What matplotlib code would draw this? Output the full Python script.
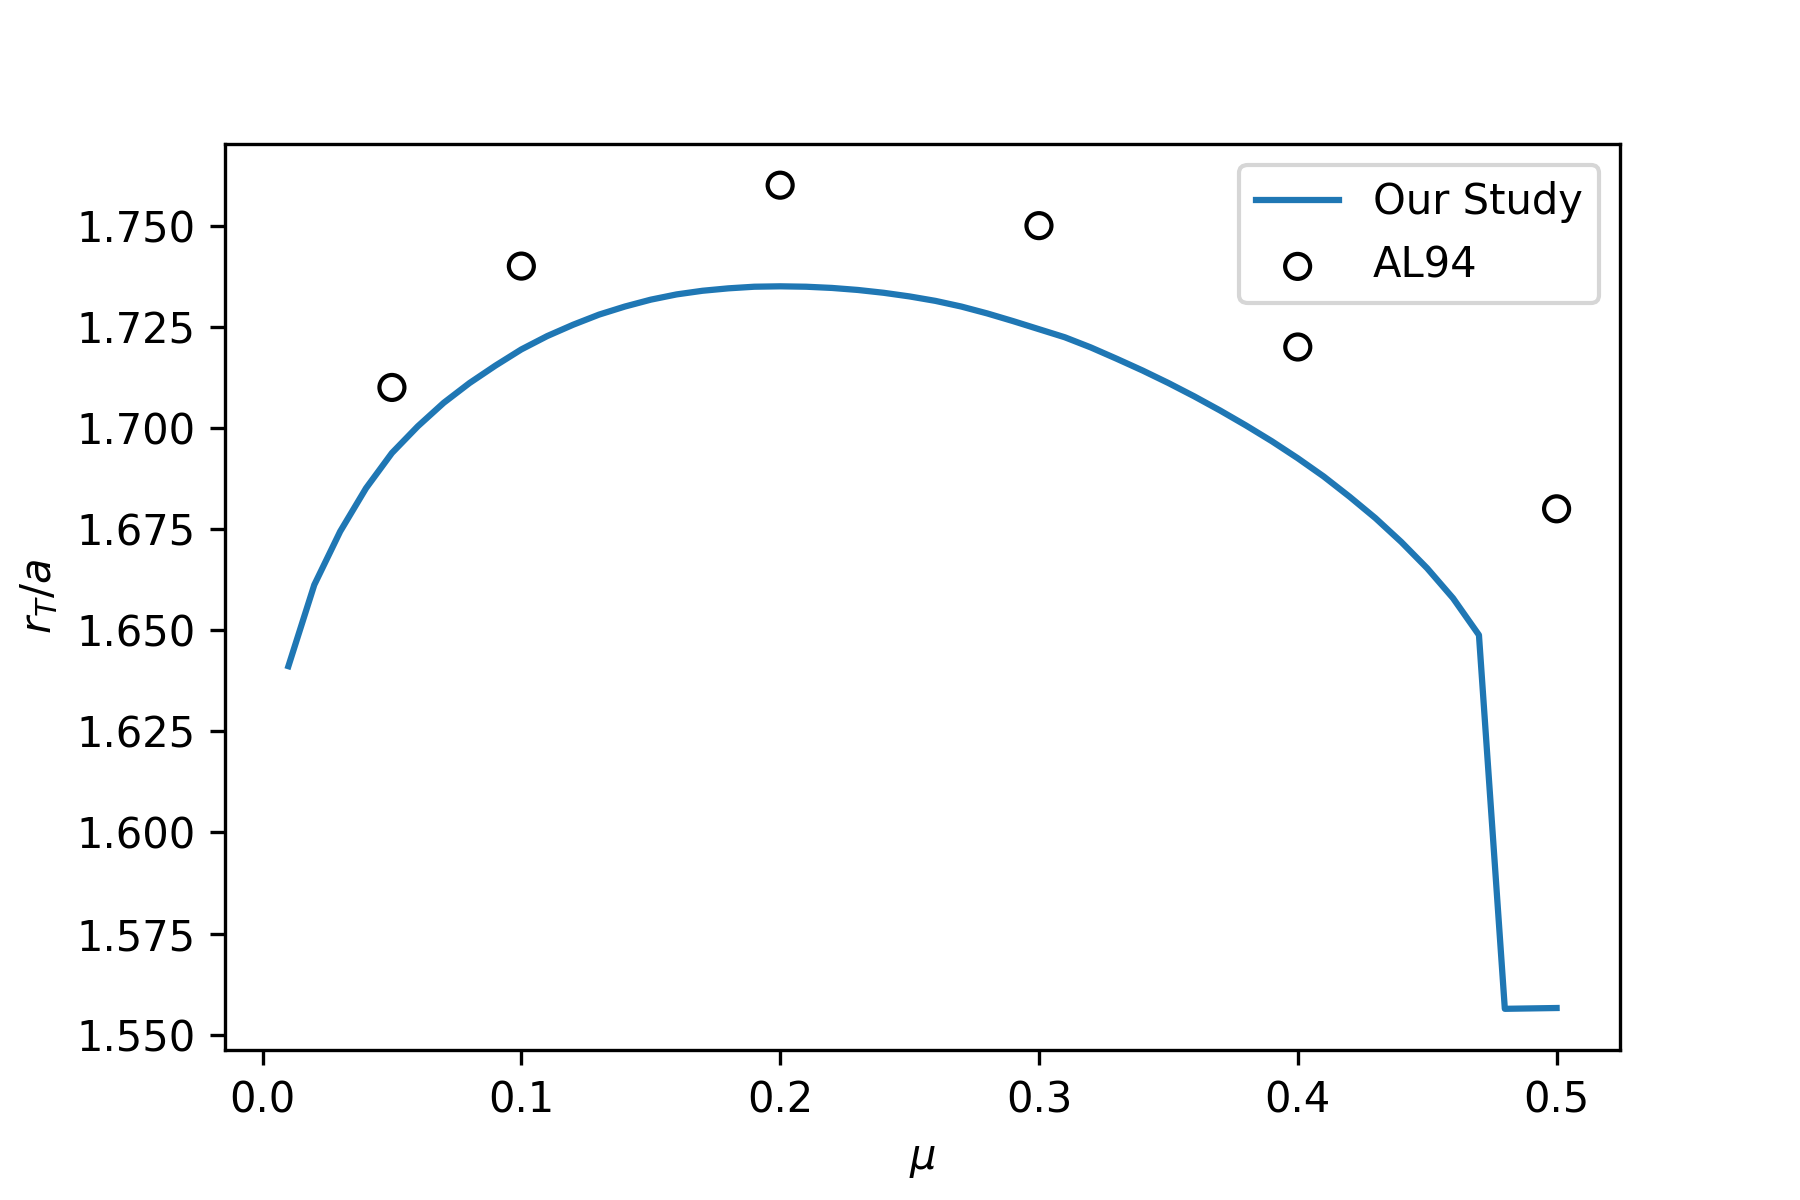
import matplotlib
matplotlib.use("Agg")
import matplotlib.pyplot as plt
import numpy as np

mu_study = [0.01, 0.02, 0.03, 0.04, 0.05, 0.06, 0.07, 0.08, 0.09, 0.10,
            0.11, 0.12, 0.13, 0.14, 0.15, 0.16, 0.17, 0.18, 0.19, 0.20,
            0.21, 0.22, 0.23, 0.24, 0.25, 0.26, 0.27, 0.28, 0.29, 0.30,
            0.31, 0.32, 0.33, 0.34, 0.35, 0.36, 0.37, 0.38, 0.39, 0.40,
            0.41, 0.42, 0.43, 0.44, 0.45, 0.46, 0.47, 0.48, 0.49, 0.50]
rt_study = [1.6411, 1.6612, 1.6744, 1.6851, 1.6938, 1.7004, 1.7062, 1.7111, 1.7154, 1.7194,
            1.7227, 1.7255, 1.7280, 1.7300, 1.7317, 1.7330, 1.7339, 1.7345, 1.7349, 1.7350,
            1.7349, 1.7346, 1.7341, 1.7334, 1.7325, 1.7314, 1.7300, 1.7283, 1.7264, 1.7244,
            1.7224, 1.7199, 1.7171, 1.7142, 1.7111, 1.7078, 1.7043, 1.7006, 1.6967, 1.6925,
            1.6880, 1.6830, 1.6777, 1.6718, 1.6653, 1.6579, 1.6488, 1.5564, 1.5565, 1.5566]

mu_al94 = [0.05, 0.1, 0.2, 0.3, 0.4, 0.5]
rt_al94 = [1.71, 1.74, 1.76, 1.75, 1.72, 1.68]

fig, ax = plt.subplots(figsize=(6, 4), dpi=300)
fig.subplots_adjust(left=0.125, right=0.9, top=0.88, bottom=0.125)
ax.plot(mu_study, rt_study, label="Our Study")
ax.scatter(mu_al94, rt_al94, facecolors="none", edgecolors="k", label="AL94")
ax.set_xlabel(r"$\mu$")
ax.set_ylabel(r"$r_T/a$")
ax.legend(loc="upper right")
fig.savefig("out.png", dpi=300)
